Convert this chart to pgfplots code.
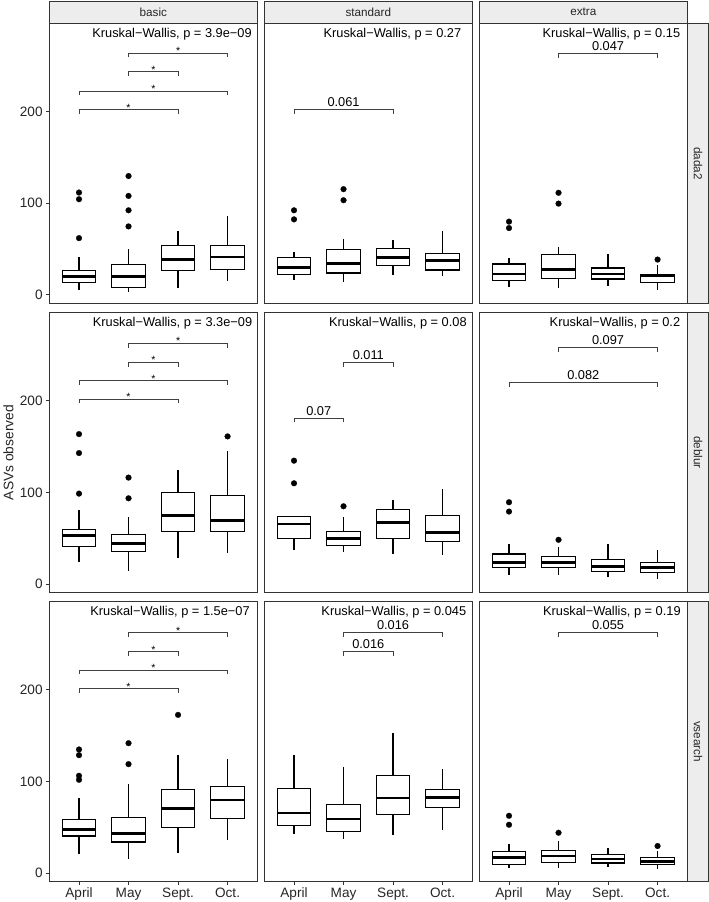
\documentclass[border=0pt]{standalone}
\usepackage{fontspec}
\setmainfont{Liberation Sans}
\usepackage{pgfplots}
\pgfplotsset{compat=1.18}
\usepgfplotslibrary{statistics}
\definecolor{stripfill}{HTML}{EDEDED}
\definecolor{frame}{HTML}{333333}
\pgfplotsset{
  panel/.style={
    width=208pt, height=280.3pt, scale only axis, anchor=north west,
    xmin=0.4, xmax=4.6, ymin=-9.6, ymax=296.5,
    axis line style={draw=frame, line width=1pt},
    clip=false, xtick=\empty, ytick=\empty,
    tick align=outside, major tick length=3.5pt,
    tick style={draw=frame, line width=0.8pt},
    xtick pos=bottom, ytick pos=left,
    ticklabel style={font=\fontsize{13.6}{15}\selectfont, text=black!85},
    /pgf/number format/assume math mode=true,
    boxplot/draw direction=y,
  },
  leftcol/.style={ytick={0,100,200}, yticklabel style={anchor=east, inner sep=0pt, xshift=-3pt}},
  bottomrow/.style={xtick={1,2,3,4}, xticklabels={April,May,Sept.,Oct.}, xticklabel style={anchor=base, inner sep=0pt, yshift=-12pt}},
  bx/.style={boxplot prepared={#1}, boxplot/draw direction=y, draw=black, line width=1.15pt, solid, mark=*, mark size=2.9pt,
    mark options={fill=black, draw=black, line width=0.2pt},
    boxplot/box extend=0.68, boxplot/whisker extend=0,
    boxplot/every median/.style={line width=2.7pt}},
  brk/.style={draw=black!75, line width=0.7pt, no marks},
}
\tikzset{
  kw/.style={anchor=base east, inner sep=0pt, font=\fontsize{12.8}{14}\selectfont},
  plab/.style={anchor=base, inner sep=0pt, yshift=3pt, font=\fontsize{12.8}{14}\selectfont},
  star/.style={anchor=base, inner sep=0pt, yshift=-1.6pt, font=\fontsize{10.5}{12}\selectfont},
  stripbox/.style={fill=stripfill, draw=frame, line width=0.8pt},
  striptext/.style={font=\fontsize{11.7}{13}\selectfont, text=black!85},
}
\begin{document}
\begin{tikzpicture}
\useasboundingbox (0,0) rectangle (709pt,-902pt);
% strips
\draw[stripbox] (49.3pt,-1pt) rectangle (257.3pt,-23.3pt);
\draw[stripbox] (264.3pt,-1pt) rectangle (472.3pt,-23.3pt);
\draw[stripbox] (479.3pt,-1pt) rectangle (687.3pt,-23.3pt);
\node[striptext] at (153.3pt,-12.2pt) {basic};
\node[striptext] at (368.3pt,-12.2pt) {standard};
\node[striptext] at (583.3pt,-12.2pt) {extra};
\draw[stripbox] (687.3pt,-23.3pt) rectangle (708.5pt,-303.6pt);
\draw[stripbox] (687.3pt,-312.5pt) rectangle (708.5pt,-592.8pt);
\draw[stripbox] (687.3pt,-601.5pt) rectangle (708.5pt,-881.8pt);
\node[striptext, rotate=-90] at (698pt,-163.5pt) {dada2};
\node[striptext, rotate=-90] at (698pt,-452.6pt) {deblur};
\node[striptext, rotate=-90] at (698pt,-741.6pt) {vsearch};
\node[rotate=90, font=\fontsize{13.8}{15}\selectfont, text=black!85] at (8.5pt,-452.5pt) {ASVs observed};

% ---------------- Row 1: dada2 ----------------
\begin{axis}[panel, leftcol, at={(49.3pt,-23.3pt)}]
\addplot[bx={draw position=1, lower whisker=4.8, lower quartile=13.2, median=20.1, upper quartile=26.7, upper whisker=41.4}] table[row sep=\\, y index=0] {d\\111.7\\104.4\\61.9\\};
\addplot[bx={draw position=2, lower whisker=3.3, lower quartile=8.4, median=20.1, upper quartile=33.0, upper whisker=50.5}] table[row sep=\\, y index=0] {d\\129.7\\108.0\\92.3\\74.7\\};
\addplot[bx={draw position=3, lower whisker=7.3, lower quartile=26.4, median=38.8, upper quartile=53.5, upper whisker=70.0}] coordinates {};
\addplot[bx={draw position=4, lower whisker=15.4, lower quartile=27.5, median=41.4, upper quartile=54.2, upper whisker=85.7}] coordinates {};
\addplot[brk] coordinates {(1,197.5) (1,202.2) (3,202.2) (3,197.5)};
\addplot[brk] coordinates {(1,218.0) (1,222.7) (4,222.7) (4,218.0)};
\addplot[brk] coordinates {(2,238.9) (2,243.6) (3,243.6) (3,238.9)};
\addplot[brk] coordinates {(2,259.4) (2,264.1) (4,264.1) (4,259.4)};
\node[star] at (axis cs:2,202.2) {*};
\node[star] at (axis cs:2.5,222.7) {*};
\node[star] at (axis cs:2.5,243.6) {*};
\node[star] at (axis cs:3,264.1) {*};
\node[kw] at (axis cs:4.49,281) {Kruskal−Wallis, p = 3.9e−09};
\end{axis}

\begin{axis}[panel, at={(264.3pt,-23.3pt)}]
\addplot[bx={draw position=1, lower whisker=15.8, lower quartile=22.0, median=30.0, upper quartile=40.3, upper whisker=46.9}] table[row sep=\\, y index=0] {d\\92.3\\82.4\\};
\addplot[bx={draw position=2, lower whisker=14.3, lower quartile=23.8, median=34.4, upper quartile=49.8, upper whisker=61.2}] table[row sep=\\, y index=0] {d\\115.4\\103.3\\};
\addplot[bx={draw position=3, lower whisker=21.6, lower quartile=32.2, median=41.0, upper quartile=50.9, upper whisker=60.1}] coordinates {};
\addplot[bx={draw position=4, lower whisker=20.9, lower quartile=27.1, median=37.4, upper quartile=45.4, upper whisker=70.0}] coordinates {};
\addplot[brk] coordinates {(1,197.5) (1,202.2) (3,202.2) (3,197.5)};
\node[plab] at (axis cs:2,202.2) {0.061};
\node[kw] at (axis cs:4.38,281) {Kruskal−Wallis, p = 0.27};
\end{axis}

\begin{axis}[panel, at={(479.3pt,-23.3pt)}]
\addplot[bx={draw position=1, lower whisker=8.4, lower quartile=15.8, median=22.7, upper quartile=33.7, upper whisker=40.3}] table[row sep=\\, y index=0] {d\\79.9\\72.9\\};
\addplot[bx={draw position=2, lower whisker=7.7, lower quartile=17.9, median=27.8, upper quartile=43.6, upper whisker=52.4}] table[row sep=\\, y index=0] {d\\111.4\\99.6\\};
\addplot[bx={draw position=3, lower whisker=9.2, lower quartile=17.2, median=22.7, upper quartile=29.3, upper whisker=45.1}] coordinates {};
\addplot[bx={draw position=4, lower whisker=5.5, lower quartile=13.6, median=20.9, upper quartile=22.3, upper whisker=32.2}] table[row sep=\\, y index=0] {d\\38.5\\};
\addplot[brk] coordinates {(2,259.0) (2,263.7) (4,263.7) (4,259.0)};
\node[plab] at (axis cs:3,263.7) {0.047};
\node[kw] at (axis cs:4.46,281) {Kruskal−Wallis, p = 0.15};
\end{axis}

% ---------------- Row 2: deblur ----------------
\begin{axis}[panel, leftcol, at={(49.3pt,-312.5pt)}]
\addplot[bx={draw position=1, lower whisker=23.6, lower quartile=41.4, median=53.0, upper quartile=59.9, upper whisker=80.6}] table[row sep=\\, y index=0] {d\\163.7\\143.0\\98.7\\};
\addplot[bx={draw position=2, lower whisker=14.5, lower quartile=35.6, median=44.3, upper quartile=54.4, upper whisker=73.0}] table[row sep=\\, y index=0] {d\\116.2\\93.6\\};
\addplot[bx={draw position=3, lower whisker=28.3, lower quartile=57.4, median=74.8, upper quartile=99.8, upper whisker=124.5}] coordinates {};
\addplot[bx={draw position=4, lower whisker=33.8, lower quartile=57.4, median=69.7, upper quartile=96.9, upper whisker=144.8}] table[row sep=\\, y index=0] {d\\161.2\\};
\addplot[brk] coordinates {(1,197.5) (1,202.2) (3,202.2) (3,197.5)};
\addplot[brk] coordinates {(1,217.4) (1,222.1) (4,222.1) (4,217.4)};
\addplot[brk] coordinates {(2,237.4) (2,242.1) (3,242.1) (3,237.4)};
\addplot[brk] coordinates {(2,258.1) (2,262.8) (4,262.8) (4,258.1)};
\node[star] at (axis cs:2,202.2) {*};
\node[star] at (axis cs:2.5,222.1) {*};
\node[star] at (axis cs:2.5,242.1) {*};
\node[star] at (axis cs:3,262.8) {*};
\node[kw] at (axis cs:4.50,281) {Kruskal−Wallis, p = 3.3e−09};
\end{axis}

\begin{axis}[panel, at={(264.3pt,-312.5pt)}]
\addplot[bx={draw position=1, lower whisker=37.4, lower quartile=50.1, median=65.7, upper quartile=73.3, upper whisker=74.0}] table[row sep=\\, y index=0] {d\\134.7\\110.0\\};
\addplot[bx={draw position=2, lower whisker=34.8, lower quartile=41.7, median=49.4, upper quartile=57.7, upper whisker=73.3}] table[row sep=\\, y index=0] {d\\84.9\\};
\addplot[bx={draw position=3, lower whisker=33.0, lower quartile=49.7, median=67.2, upper quartile=81.7, upper whisker=91.5}] coordinates {};
\addplot[bx={draw position=4, lower whisker=31.9, lower quartile=46.1, median=56.3, upper quartile=74.4, upper whisker=104.2}] coordinates {};
\addplot[brk] coordinates {(1,176.4) (1,181.1) (2,181.1) (2,176.4)};
\addplot[brk] coordinates {(2,237.4) (2,242.1) (3,242.1) (3,237.4)};
\node[plab] at (axis cs:1.5,181.1) {0.07};
\node[plab] at (axis cs:2.5,242.1) {0.011};
\node[kw] at (axis cs:4.49,281) {Kruskal−Wallis, p = 0.08};
\end{axis}

\begin{axis}[panel, at={(479.3pt,-312.5pt)}]
\addplot[bx={draw position=1, lower whisker=10.2, lower quartile=18.1, median=23.2, upper quartile=32.7, upper whisker=43.6}] table[row sep=\\, y index=0] {d\\89.3\\79.1\\};
\addplot[bx={draw position=2, lower whisker=10.2, lower quartile=18.1, median=23.2, upper quartile=29.8, upper whisker=40.3}] table[row sep=\\, y index=0] {d\\48.3\\};
\addplot[bx={draw position=3, lower whisker=7.3, lower quartile=13.8, median=19.2, upper quartile=26.9, upper whisker=43.6}] coordinates {};
\addplot[bx={draw position=4, lower whisker=5.4, lower quartile=12.7, median=18.1, upper quartile=23.2, upper whisker=37.4}] coordinates {};
\addplot[brk] coordinates {(1,215.3) (1,220.0) (4,220.0) (4,215.3)};
\addplot[brk] coordinates {(2,253.4) (2,258.1) (4,258.1) (4,253.4)};
\node[plab] at (axis cs:2.5,220.0) {0.082};
\node[plab] at (axis cs:3,258.1) {0.097};
\node[kw] at (axis cs:4.46,281) {Kruskal−Wallis, p = 0.2};
\end{axis}

% ---------------- Row 3: vsearch ----------------
\begin{axis}[panel, leftcol, bottomrow, at={(49.3pt,-601.5pt)}]
\addplot[bx={draw position=1, lower whisker=20.4, lower quartile=40.4, median=47.6, upper quartile=58.9, upper whisker=82.2}] table[row sep=\\, y index=0] {d\\134.9\\128.7\\106.2\\101.8\\};
\addplot[bx={draw position=2, lower whisker=15.6, lower quartile=33.8, median=43.3, upper quartile=60.7, upper whisker=97.5}] table[row sep=\\, y index=0] {d\\141.8\\118.9\\};
\addplot[bx={draw position=3, lower whisker=21.8, lower quartile=49.5, median=70.5, upper quartile=91.3, upper whisker=128.4}] table[row sep=\\, y index=0] {d\\172.7\\};
\addplot[bx={draw position=4, lower whisker=35.6, lower quartile=59.6, median=79.6, upper quartile=94.2, upper whisker=124.4}] coordinates {};
\addplot[brk] coordinates {(1,196.8) (1,201.5) (3,201.5) (3,196.8)};
\addplot[brk] coordinates {(1,217.1) (1,221.8) (4,221.8) (4,217.1)};
\addplot[brk] coordinates {(2,237.1) (2,241.8) (3,241.8) (3,237.1)};
\addplot[brk] coordinates {(2,257.8) (2,262.5) (4,262.5) (4,257.8)};
\node[star] at (axis cs:2,201.5) {*};
\node[star] at (axis cs:2.5,221.8) {*};
\node[star] at (axis cs:2.5,241.8) {*};
\node[star] at (axis cs:3,262.5) {*};
\node[kw] at (axis cs:4.45,281) {Kruskal−Wallis, p = 1.5e−07};
\end{axis}

\begin{axis}[panel, bottomrow, at={(264.3pt,-601.5pt)}]
\addplot[bx={draw position=1, lower whisker=42.9, lower quartile=52.0, median=65.5, upper quartile=92.4, upper whisker=128.7}] coordinates {};
\addplot[bx={draw position=2, lower whisker=37.1, lower quartile=45.1, median=58.9, upper quartile=74.5, upper whisker=115.6}] coordinates {};
\addplot[bx={draw position=3, lower whisker=41.8, lower quartile=64.0, median=81.8, upper quartile=106.2, upper whisker=152.7}] coordinates {};
\addplot[bx={draw position=4, lower whisker=47.3, lower quartile=72.0, median=82.2, upper quartile=91.3, upper whisker=113.5}] coordinates {};
\addplot[brk] coordinates {(2,237.1) (2,241.8) (3,241.8) (3,237.1)};
\addplot[brk] coordinates {(2,258.2) (2,262.9) (4,262.9) (4,258.2)};
\node[plab] at (axis cs:2.5,241.8) {0.016};
\node[plab] at (axis cs:3,262.9) {0.016};
\node[kw] at (axis cs:4.48,281) {Kruskal−Wallis, p = 0.045};
\end{axis}

\begin{axis}[panel, bottomrow, at={(479.3pt,-601.5pt)}]
\addplot[bx={draw position=1, lower whisker=5.8, lower quartile=9.5, median=16.7, upper quartile=23.6, upper whisker=32.0}] table[row sep=\\, y index=0] {d\\62.5\\52.7\\};
\addplot[bx={draw position=2, lower whisker=5.1, lower quartile=11.6, median=18.5, upper quartile=24.4, upper whisker=34.5}] table[row sep=\\, y index=0] {d\\44.0\\};
\addplot[bx={draw position=3, lower whisker=6.9, lower quartile=10.9, median=15.3, upper quartile=20.0, upper whisker=27.3}] coordinates {};
\addplot[bx={draw position=4, lower whisker=4.4, lower quartile=9.1, median=12.4, upper quartile=16.7, upper whisker=24.0}] table[row sep=\\, y index=0] {d\\29.5\\};
\addplot[brk] coordinates {(2,257.8) (2,262.5) (4,262.5) (4,257.8)};
\node[plab] at (axis cs:3,262.5) {0.055};
\node[kw] at (axis cs:4.47,281) {Kruskal−Wallis, p = 0.19};
\end{axis}
\end{tikzpicture}
\end{document}
